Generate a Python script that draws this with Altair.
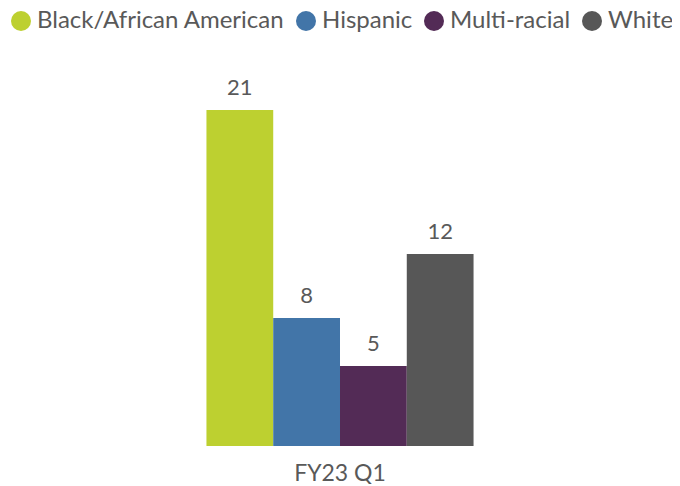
import altair as alt
import pandas as pd

quarter = ["FY23 Q1"]
groups = ["Black/African American", "Hispanic", "Multi-racial", "White"]
values = [21, 8, 5, 12]
colors = ["#BDD030", "#4275A8", "#532B56", "#575757"]

df = pd.DataFrame({
    "quarter": quarter * len(groups),
    "group": groups,
    "value": values,
})

FONT = "Lato"
TXT = "#595959"

base = alt.Chart(df).encode(
    x=alt.X("quarter:N", title=None,
            scale=alt.Scale(paddingOuter=0.743, paddingInner=0),
            axis=alt.Axis(labelAngle=0, ticks=False, domain=False, grid=False,
                          labelFontSize=23, labelFont=FONT, labelColor=TXT,
                          labelPadding=16)),
    xOffset=alt.XOffset("group:N", sort=groups,
                        scale=alt.Scale(paddingInner=0, paddingOuter=0)),
    y=alt.Y("value:Q", scale=alt.Scale(domain=[0, 24], nice=False), axis=None),
)

bars = base.mark_bar().encode(
    color=alt.Color("group:N", sort=groups,
                    scale=alt.Scale(domain=groups, range=colors),
                    legend=alt.Legend(title=None, orient="none", direction="horizontal",
                                      legendX=1, legendY=-53,
                                      symbolType="circle", symbolSize=400,
                                      symbolStrokeWidth=0, symbolOpacity=1,
                                      labelFontSize=24, labelFont=FONT, labelColor=TXT,
                                      labelOffset=4, columnPadding=9, padding=0,
                                      labelLimit=400))
)

labels = base.mark_text(baseline="alphabetic", dy=-15, fontSize=22,
                        font=FONT, color=TXT).encode(text="value:Q")

chart = alt.layer(bars, labels).properties(
    width=664, height=384,
    padding={"left": 0, "top": 54, "right": 0, "bottom": 38},
    autosize=alt.AutoSizeParams(type="none"),
).configure_view(stroke=None)

chart.save("out.html", embed_options={"renderer": "svg", "actions": False})
